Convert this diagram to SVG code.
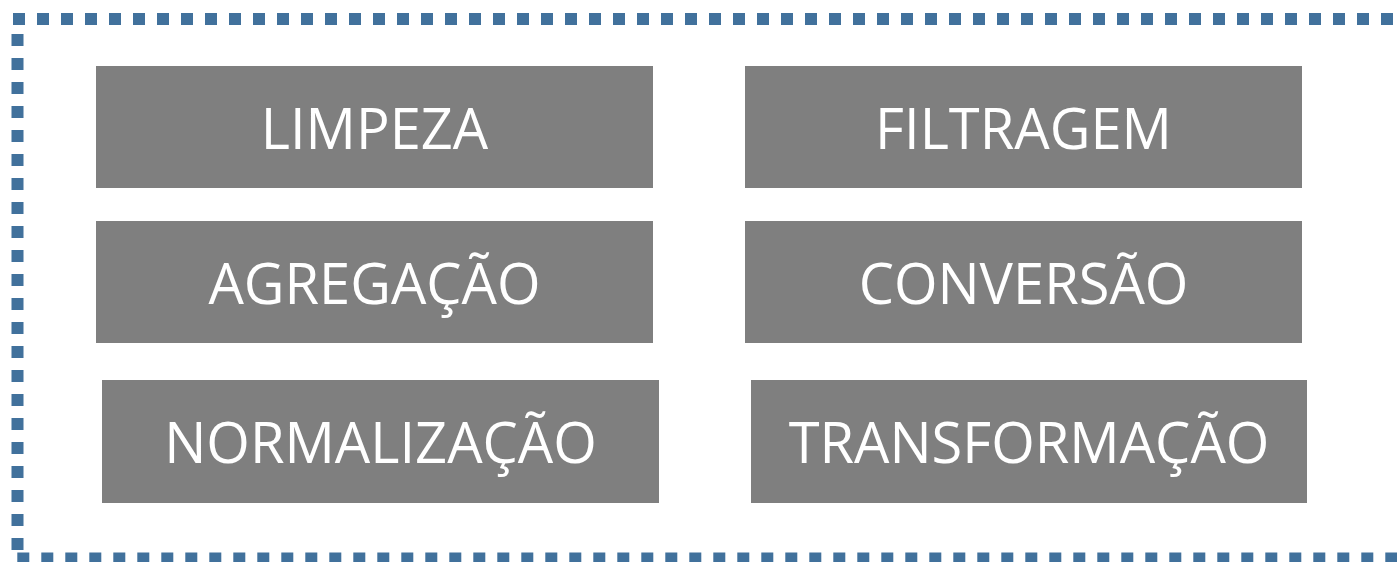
<svg xmlns="http://www.w3.org/2000/svg" width="1397" height="562" viewBox="0 0 1397 562">
<style>
.box{fill:#7f7f7f}
.lbl{fill:#ffffff;font-family:"Open Sans","Noto Sans","Liberation Sans",sans-serif;font-size:56px;text-anchor:middle}
.frame{stroke:#41719c;stroke-width:12;stroke-dasharray:12 12;fill:none}
</style>
<rect width="1397" height="562" fill="#ffffff"/>
<g id="frame">
<line class="frame" x1="13" y1="19" x2="1400" y2="19"/>
<line class="frame" x1="17.5" y1="34" x2="17.5" y2="552"/>
<line class="frame" x1="17.3" y1="558.5" x2="1400" y2="558.5"/>
</g>
<g id="limpeza"><rect class="box" x="96" y="66" width="557" height="122"/><text class="lbl" x="374.5" y="149">LIMPEZA</text></g>
<g id="filtragem"><rect class="box" x="745" y="66" width="557" height="122"/><text class="lbl" x="1023.5" y="149">FILTRAGEM</text></g>
<g id="agregacao"><rect class="box" x="96" y="221" width="557" height="122"/><text class="lbl" x="374.5" y="304">AGREGAÇÃO</text></g>
<g id="conversao"><rect class="box" x="745" y="221" width="557" height="122"/><text class="lbl" x="1023.5" y="304">CONVERSÃO</text></g>
<g id="normalizacao"><rect class="box" x="102" y="380" width="557" height="123"/><text class="lbl" x="380.5" y="463">NORMALIZAÇÃO</text></g>
<g id="transformacao"><rect class="box" x="751" y="380" width="556" height="123"/><text class="lbl" x="1029" y="463">TRANSFORMAÇÃO</text></g>
<g id="connectors"></g>
</svg>
